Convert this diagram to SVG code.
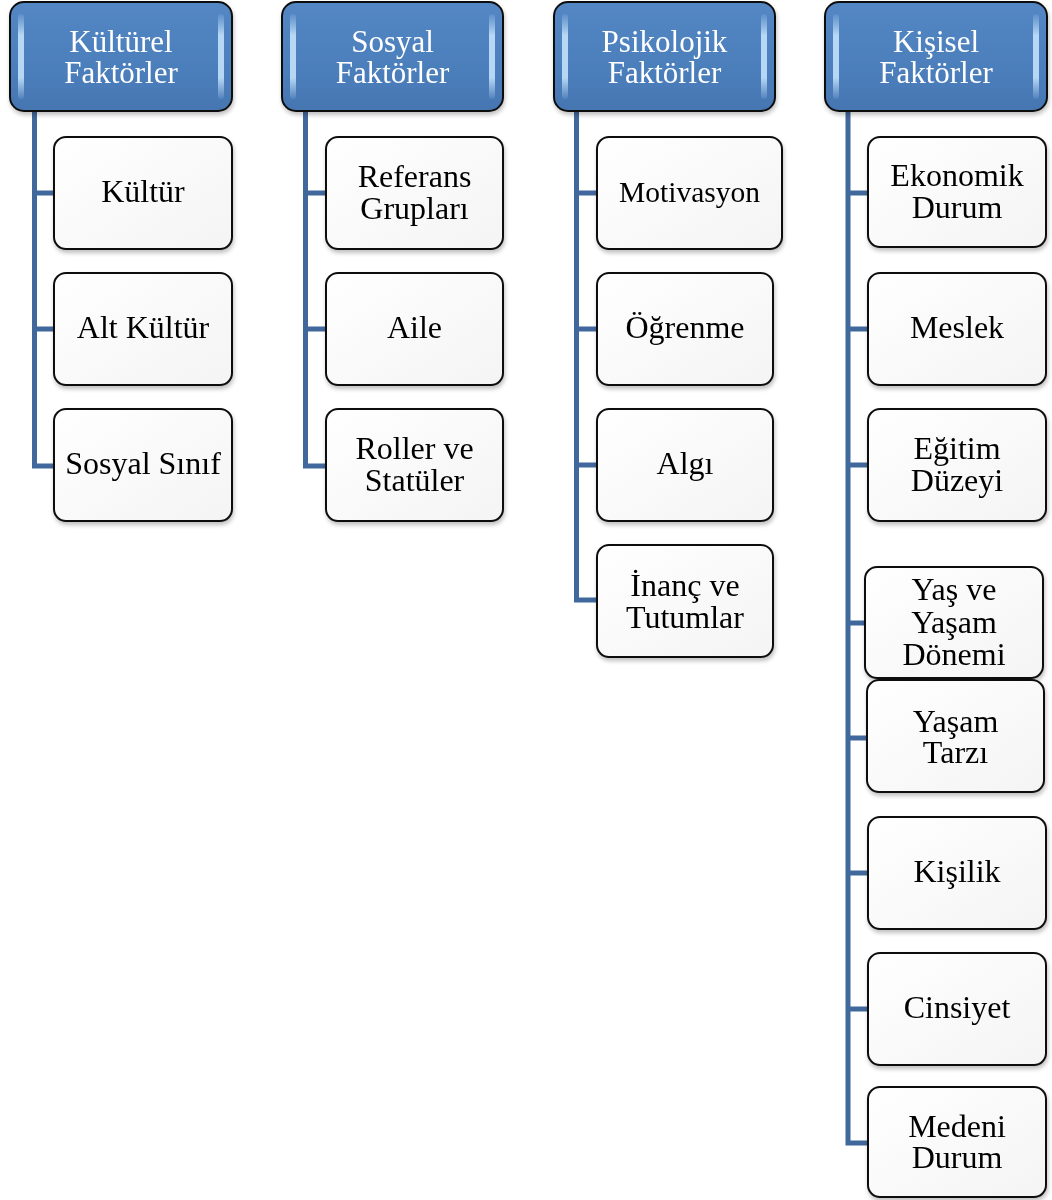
<svg xmlns="http://www.w3.org/2000/svg" width="1052" height="1200" viewBox="0 0 1052 1200">
  <defs>
    <linearGradient id="hdrFill" x1="0" y1="0" x2="0" y2="1">
      <stop offset="0" stop-color="#5387c4"/>
      <stop offset="0.6" stop-color="#4c7fbc"/>
      <stop offset="1" stop-color="#4576b2"/>
    </linearGradient>
    <linearGradient id="gloss" x1="0" y1="0" x2="0" y2="1">
      <stop offset="0" stop-color="#bfe0fb" stop-opacity="0.1"/>
      <stop offset="0.25" stop-color="#c9e6ff" stop-opacity="0.85"/>
      <stop offset="0.75" stop-color="#c9e6ff" stop-opacity="0.85"/>
      <stop offset="1" stop-color="#bfe0fb" stop-opacity="0.1"/>
    </linearGradient>
    <linearGradient id="boxFill" x1="0" y1="0" x2="1" y2="1">
      <stop offset="0" stop-color="#ffffff"/>
      <stop offset="1" stop-color="#f4f4f4"/>
    </linearGradient>
    <filter id="shadow" x="-10%" y="-10%" width="125%" height="130%">
      <feGaussianBlur in="SourceAlpha" stdDeviation="2"/>
      <feOffset dx="1" dy="3" result="b"/>
      <feComponentTransfer><feFuncA type="linear" slope="0.25"/></feComponentTransfer>
      <feMerge><feMergeNode/><feMergeNode in="SourceGraphic"/></feMerge>
    </filter>
  </defs>
  <style>
    .hdr rect.body { fill: url(#hdrFill); stroke: #111; stroke-width: 2; }
    .hdr rect.hl { fill: url(#gloss); }
    .hdr text { font-family: "Liberation Serif", "Times New Roman", serif; font-size: 31px; fill: #ffffff; text-anchor: middle; }
    .node rect { fill: url(#boxFill); stroke: #111; stroke-width: 2; }
    .node text { font-family: "Liberation Serif", "Times New Roman", serif; font-size: 32px; fill: #000; text-anchor: middle; }
    .conn { fill: none; stroke: #41689c; stroke-width: 5; stroke-linejoin: miter; }
  </style>

  <!-- connectors -->
  <g id="connectors">
    <path class="conn" d="M34.5 111 V466 H55 M34.5 193 H55 M34.5 329 H55"/>
    <path class="conn" d="M305.5 111 V466 H327 M305.5 193 H327 M305.5 329 H327"/>
    <path class="conn" d="M576.5 111 V600 H598 M576.5 193 H598 M576.5 329 H598 M576.5 465 H598"/>
    <path class="conn" d="M848 111 V1143 H869 M848 193 H869 M848 329 H869 M848 465 H869 M848 623 H866 M848 738 H868 M848 873 H869 M848 1009 H869"/>
  </g>

  <!-- column headers -->
  <g id="hdr-kulturel" class="hdr" filter="url(#shadow)">
    <rect class="body" x="10" y="2" width="222" height="109" rx="14"/>
    <rect class="hl" x="18" y="14" width="6" height="85" rx="3"/>
    <rect class="hl" x="218" y="14" width="6" height="85" rx="3"/>
    <text x="121" y="52">Kültürel</text>
    <text x="121" y="83">Faktörler</text>
  </g>
  <g id="hdr-sosyal" class="hdr" filter="url(#shadow)">
    <rect class="body" x="282" y="2" width="221" height="109" rx="14"/>
    <rect class="hl" x="290" y="14" width="6" height="85" rx="3"/>
    <rect class="hl" x="489" y="14" width="6" height="85" rx="3"/>
    <text x="392.5" y="52">Sosyal</text>
    <text x="392.5" y="83">Faktörler</text>
  </g>
  <g id="hdr-psikolojik" class="hdr" filter="url(#shadow)">
    <rect class="body" x="554" y="2" width="221" height="109" rx="14"/>
    <rect class="hl" x="562" y="14" width="6" height="85" rx="3"/>
    <rect class="hl" x="761" y="14" width="6" height="85" rx="3"/>
    <text x="664.5" y="52">Psikolojik</text>
    <text x="664.5" y="83">Faktörler</text>
  </g>
  <g id="hdr-kisisel" class="hdr" filter="url(#shadow)">
    <rect class="body" x="825" y="2" width="222" height="109" rx="14"/>
    <rect class="hl" x="833" y="14" width="6" height="85" rx="3"/>
    <rect class="hl" x="1033" y="14" width="6" height="85" rx="3"/>
    <text x="936" y="52">Kişisel</text>
    <text x="936" y="83">Faktörler</text>
  </g>

  <!-- cultural factors -->
  <g id="n-kultur" class="node" filter="url(#shadow)">
    <rect x="54" y="137" width="178" height="112" rx="12"/>
    <text x="143" y="202">Kültür</text>
  </g>
  <g id="n-altkultur" class="node" filter="url(#shadow)">
    <rect x="54" y="273" width="178" height="112" rx="12"/>
    <text x="143" y="338">Alt Kültür</text>
  </g>
  <g id="n-sosyalsinif" class="node" filter="url(#shadow)">
    <rect x="54" y="409" width="178" height="112" rx="12"/>
    <text x="143" y="474">Sosyal Sınıf</text>
  </g>

  <!-- social factors -->
  <g id="n-referans" class="node" filter="url(#shadow)">
    <rect x="326" y="137" width="177" height="112" rx="12"/>
    <text x="414.5" y="187">Referans</text>
    <text x="414.5" y="219">Grupları</text>
  </g>
  <g id="n-aile" class="node" filter="url(#shadow)">
    <rect x="326" y="273" width="177" height="112" rx="12"/>
    <text x="414.5" y="338">Aile</text>
  </g>
  <g id="n-roller" class="node" filter="url(#shadow)">
    <rect x="326" y="409" width="177" height="112" rx="12"/>
    <text x="414.5" y="459">Roller ve</text>
    <text x="414.5" y="491">Statüler</text>
  </g>

  <!-- psychological factors -->
  <g id="n-motivasyon" class="node" filter="url(#shadow)">
    <rect x="597" y="137" width="185" height="112" rx="12"/>
    <text x="689.5" y="202" style="font-size:29.5px">Motivasyon</text>
  </g>
  <g id="n-ogrenme" class="node" filter="url(#shadow)">
    <rect x="597" y="273" width="176" height="112" rx="12"/>
    <text x="685" y="338">Öğrenme</text>
  </g>
  <g id="n-algi" class="node" filter="url(#shadow)">
    <rect x="597" y="409" width="176" height="112" rx="12"/>
    <text x="685" y="474">Algı</text>
  </g>
  <g id="n-inanc" class="node" filter="url(#shadow)">
    <rect x="597" y="545" width="176" height="112" rx="12"/>
    <text x="685" y="596">İnanç ve</text>
    <text x="685" y="628">Tutumlar</text>
  </g>

  <!-- personal factors -->
  <g id="n-ekonomik" class="node" filter="url(#shadow)">
    <rect x="868" y="137" width="178" height="110" rx="12"/>
    <text x="957" y="186">Ekonomik</text>
    <text x="957" y="218">Durum</text>
  </g>
  <g id="n-meslek" class="node" filter="url(#shadow)">
    <rect x="868" y="273" width="178" height="112" rx="12"/>
    <text x="957" y="338">Meslek</text>
  </g>
  <g id="n-egitim" class="node" filter="url(#shadow)">
    <rect x="868" y="409" width="178" height="112" rx="12"/>
    <text x="957" y="459">Eğitim</text>
    <text x="957" y="491">Düzeyi</text>
  </g>
  <g id="n-yas" class="node" filter="url(#shadow)">
    <rect x="865" y="567" width="178" height="111" rx="12"/>
    <text x="954" y="600">Yaş ve</text>
    <text x="954" y="632.5">Yaşam</text>
    <text x="954" y="665">Dönemi</text>
  </g>
  <g id="n-yasamtarzi" class="node" filter="url(#shadow)">
    <rect x="867" y="680" width="177" height="112" rx="12"/>
    <text x="955.5" y="732">Yaşam</text>
    <text x="955.5" y="763">Tarzı</text>
  </g>
  <g id="n-kisilik" class="node" filter="url(#shadow)">
    <rect x="868" y="817" width="178" height="112" rx="12"/>
    <text x="957" y="882">Kişilik</text>
  </g>
  <g id="n-cinsiyet" class="node" filter="url(#shadow)">
    <rect x="868" y="953" width="178" height="112" rx="12"/>
    <text x="957" y="1018">Cinsiyet</text>
  </g>
  <g id="n-medeni" class="node" filter="url(#shadow)">
    <rect x="868" y="1087" width="178" height="110" rx="12"/>
    <text x="957" y="1137">Medeni</text>
    <text x="957" y="1168">Durum</text>
  </g>
</svg>
